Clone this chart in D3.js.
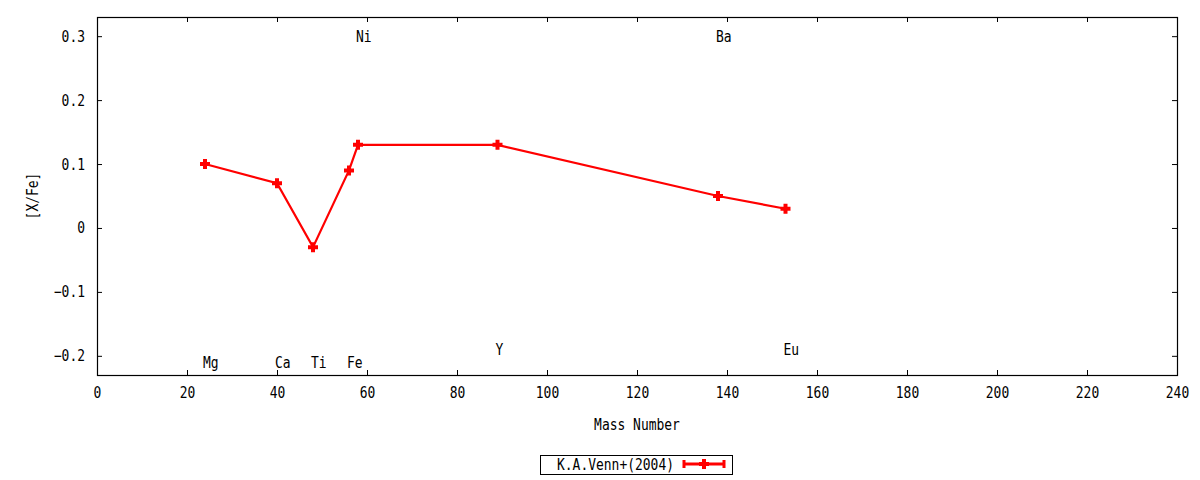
<!DOCTYPE html>
<html>
<head>
<meta charset="utf-8">
<script src="https://cdn.jsdelivr.net/npm/d3@7"></script>
<style>
  body { margin: 0; background: #fff; }
  text { font-family: "DejaVu Sans Mono", monospace; font-size: 15.5px; fill: #000; }
</style>
</head>
<body>
<div id="wrapper"></div>
<script>
// mass number / [X/Fe] from K.A.Venn+(2004)
const elements = ["Mg", "Ca", "Ti", "Fe", "Ni", "Y", "Ba", "Eu"]
const massNumbers = [24, 40, 48, 56, 58, 89, 138, 153]
const xfeValues = [0.10, 0.07, -0.03, 0.09, 0.13, 0.13, 0.05, 0.03]
const labelY = [-0.21, -0.21, -0.21, -0.21, 0.30, -0.19, 0.30, -0.19]
const xTicks = d3.range(0, 241, 20)
const yTicks = [-0.2, -0.1, 0, 0.1, 0.2, 0.3]
const seriesName = "K.A.Venn+(2004)"

const data = elements.map((el, i) => ({
  el: el, mass: massNumbers[i], val: xfeValues[i], ly: labelY[i]
}))

let dimensions = {
  width: 1200,
  height: 480,
  margins: { top: 17, right: 23, bottom: 105, left: 97 }
}
dimensions.boundedWidth = dimensions.width
  - dimensions.margins.left
  - dimensions.margins.right
dimensions.boundedHeight = dimensions.height
  - dimensions.margins.top
  - dimensions.margins.bottom

const wrapper = d3.select("#wrapper")
  .append("svg")
    .attr("width", dimensions.width)
    .attr("height", dimensions.height)

const bounds = wrapper.append("g")
  .attr("transform", `translate(${dimensions.margins.left},${dimensions.margins.top})`)

const xScale = d3.scaleLinear()
  .domain([0, 240])
  .range([0, dimensions.boundedWidth])

const yScale = d3.scaleLinear()
  .domain([-0.23, 0.33])
  .range([dimensions.boundedHeight, 0])

const fmt = d => d === 0 ? "0" : d3.format(".1f")(d)

// ticks on all four sides, inward (gnuplot style)
const tickLen = 5
bounds.append("g")
  .attr("transform", `translate(0,${dimensions.boundedHeight})`)
  .call(d3.axisBottom(xScale).tickValues(xTicks).tickSize(-tickLen).tickPadding(12))
bounds.append("g")
  .call(d3.axisTop(xScale).tickValues(xTicks).tickSize(-tickLen).tickFormat(""))
bounds.append("g")
  .call(d3.axisLeft(yScale).tickValues(yTicks).tickSize(-tickLen).tickPadding(12).tickFormat(fmt))
bounds.append("g")
  .attr("transform", `translate(${dimensions.boundedWidth},0)`)
  .call(d3.axisRight(yScale).tickValues(yTicks).tickSize(-tickLen).tickFormat(""))

bounds.selectAll(".domain").remove()
bounds.selectAll(".tick line").attr("stroke", "#000").attr("stroke-width", 1)
bounds.selectAll(".tick text").attr("font-size", null).attr("font-family", null)

bounds.append("rect")
  .attr("x", 0.5).attr("y", 0.5)
  .attr("width", dimensions.boundedWidth)
  .attr("height", dimensions.boundedHeight)
  .attr("fill", "none")
  .attr("stroke", "#000")
  .attr("stroke-width", 1.2)

// element labels
bounds.selectAll(".elabel")
  .data(data)
  .join("text")
    .attr("class", "elabel")
    .attr("x", d => xScale(d.mass) - 2)
    .attr("y", d => yScale(d.ly))
    .attr("dy", "0.35em")
    .text(d => d.el)

// line + markers
const lineGenerator = d3.line()
  .x(d => xScale(d.mass))
  .y(d => yScale(d.val))

bounds.append("path")
  .attr("d", lineGenerator(data))
  .attr("fill", "none")
  .attr("stroke", "#ff0000")
  .attr("stroke-width", 2.2)

const plus = "M-5,0H5M0,-5V5"
bounds.selectAll(".pt")
  .data(data)
  .join("path")
    .attr("class", "pt")
    .attr("transform", d => `translate(${xScale(d.mass)},${yScale(d.val)})`)
    .attr("d", plus)
    .attr("stroke", "#ff0000")
    .attr("stroke-width", 4)

// axis titles
wrapper.append("text")
  .attr("x", dimensions.margins.left + xScale(120))
  .attr("y", 430)
  .attr("text-anchor", "middle")
  .text("Mass Number")

wrapper.append("text")
  .attr("transform", `translate(38,196) rotate(-90)`)
  .attr("text-anchor", "middle")
  .text("[X/Fe]")

// legend
const legend = wrapper.append("g")
legend.append("rect")
  .attr("x", 540.5).attr("y", 455.5)
  .attr("width", 192).attr("height", 19)
  .attr("fill", "none").attr("stroke", "#000").attr("stroke-width", 1)
legend.append("text")
  .attr("x", 674).attr("y", 465)
  .attr("dy", "0.35em")
  .attr("text-anchor", "end")
  .text(seriesName)
legend.append("path")
  .attr("d", "M683,464H725M684,460V468M724,460V468")
  .attr("stroke", "#ff0000").attr("stroke-width", 3).attr("fill", "none")
legend.append("path")
  .attr("transform", "translate(704,464)")
  .attr("d", plus)
  .attr("stroke", "#ff0000").attr("stroke-width", 4)

// squeeze every text to the narrow gnuplot glyph advance
wrapper.selectAll("text").each(function() {
  const n = this.textContent.length
  if (n > 0) d3.select(this)
    .attr("textLength", n * 7.8)
    .attr("lengthAdjust", "spacingAndGlyphs")
})
</script>
</body>
</html>
